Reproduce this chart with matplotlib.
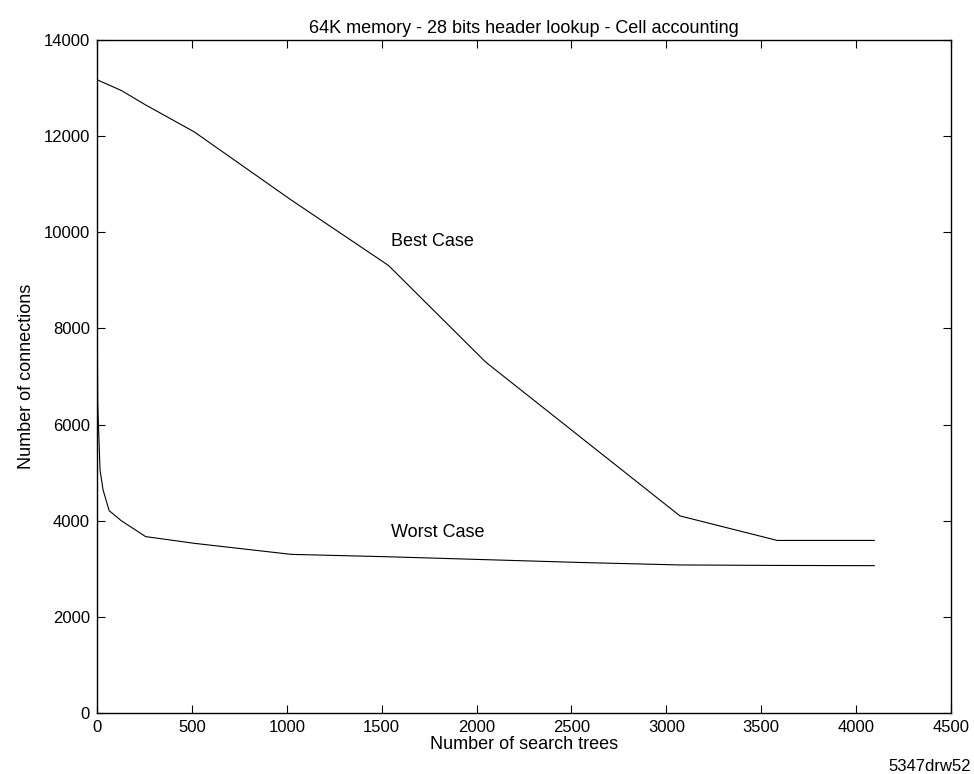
import matplotlib
matplotlib.use('Agg')
import matplotlib.pyplot as plt

plt.rcParams['font.family'] = ['Liberation Sans', 'DejaVu Sans']

# search tree counts and connection counts
best_trees = [1, 2, 128, 256, 512, 1024, 1536, 2048, 3072, 3584, 4096]
best_conn = [2000, 13170, 12950, 12650, 12090, 10670, 9310, 7300, 4100, 3590, 3590]

worst_trees = [1, 4, 16, 32, 64, 128, 256, 512, 1024, 1536, 2048, 2560, 3072, 3584, 4096]
worst_conn = [8400, 6400, 5050, 4640, 4210, 4000, 3670, 3530, 3300, 3250, 3190, 3130, 3080, 3070, 3065]

x_ticks = [0, 500, 1000, 1500, 2000, 2500, 3000, 3500, 4000, 4500]
y_ticks = [0, 2000, 4000, 6000, 8000, 10000, 12000, 14000]

fig = plt.figure(figsize=(9.74, 7.74), dpi=100)
ax = fig.add_axes([0.0996, 0.0788, 0.8768, 0.8695])

ax.plot(best_trees, best_conn, color='black', linewidth=0.8)
ax.plot(worst_trees, worst_conn, color='black', linewidth=0.8)

ax.text(1765, 9800, 'Best Case', fontsize=13, ha='center', va='center')
ax.text(1797, 3745, 'Worst Case', fontsize=13, ha='center', va='center')

ax.set_xlim(0, 4500)
ax.set_ylim(0, 14000)
ax.set_xticks(x_ticks)
ax.set_yticks(y_ticks)
ax.tick_params(direction='in', length=6, width=0.8, labelsize=12,
               top=True, right=True, pad=5)
for s in ax.spines.values():
    s.set_linewidth(1.0)

ax.set_title('64K memory - 28 bits header lookup - Cell accounting', fontsize=13, pad=5)
ax.set_xlabel('Number of search trees', fontsize=13, labelpad=1)
ax.set_ylabel('Number of connections', fontsize=13, labelpad=6)

fig.text(0.912, 0.0, '5347drw52', fontsize=12, ha='left', va='bottom')

fig.savefig('out.png', dpi=100)
